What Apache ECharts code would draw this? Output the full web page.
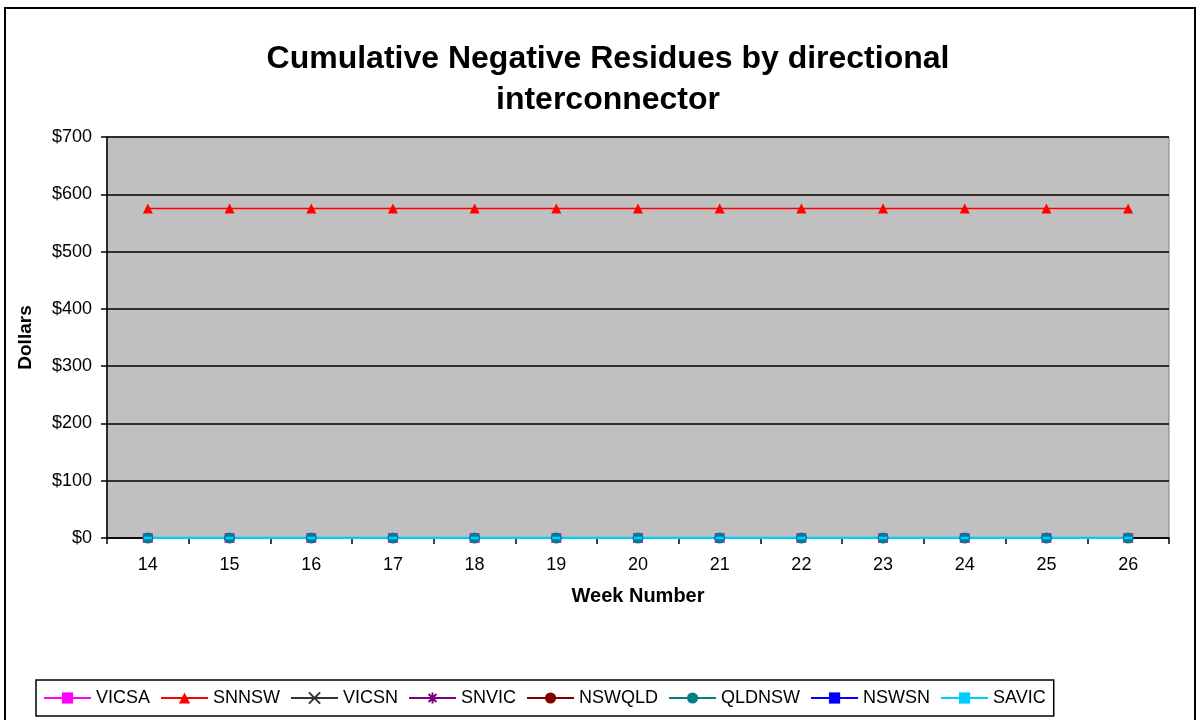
<!DOCTYPE html>
<html><head><meta charset="utf-8">
<script src="https://cdn.jsdelivr.net/npm/echarts@6/dist/echarts.min.js"></script>
<style>html,body{margin:0;padding:0;background:#fff}#c{width:1198px;height:720px}</style>
</head><body><div id="c"></div>
<script>
var weeks = ['14','15','16','17','18','19','20','21','22','23','24','25','26'];
var VICSA  = [0,0,0,0,0,0,0,0,0,0,0,0,0];
var SNNSW  = [575,575,575,575,575,575,575,575,575,575,575,575,575];
var VICSN  = [0,0,0,0,0,0,0,0,0,0,0,0,0];
var SNVIC  = [0,0,0,0,0,0,0,0,0,0,0,0,0];
var NSWQLD = [0,0,0,0,0,0,0,0,0,0,0,0,0];
var QLDNSW = [0,0,0,0,0,0,0,0,0,0,0,0,0];
var NSWSN  = [0,0,0,0,0,0,0,0,0,0,0,0,0];
var SAVIC  = [0,0,0,0,0,0,0,0,0,0,0,0,0];
var yTicks = ['$0','$100','$200','$300','$400','$500','$600','$700'];

var F = 'Arial, "Liberation Sans", sans-serif';
function mk(name, data, color, symbol, size, extra) {
  var s = {
    name: name, type: 'line', data: data, symbol: symbol, symbolSize: size,
    lineStyle: {color: color, width: 1.5},
    itemStyle: {color: color},
    emphasis: {disabled: true}, animation: false
  };
  if (extra) for (var k in extra) s[k] = extra[k];
  return s;
}
var xPath = 'path://M0,0L10,10M10,0L0,10';
var starPath = 'path://M5,0L5,10M0,5L10,5M1.5,1.5L8.5,8.5M8.5,1.5L1.5,8.5';
var chart = echarts.init(document.getElementById('c'));
chart.setOption({
  backgroundColor: '#fff',
  animation: false,
  title: {
    text: 'Cumulative Negative Residues by directional\ninterconnector',
    left: 603, top: 34, textAlign: 'center',
    textStyle: {fontFamily: F, fontSize: 32, fontWeight: 'bold', color: '#000', lineHeight: 41}
  },
  graphic: [{
    type: 'rect', shape: {x: 5, y: 8, width: 1190, height: 730},
    style: {fill: 'none', stroke: '#000', lineWidth: 2}, silent: true
  }],
  legend: {
    left: 36, top: 680,
    padding: [9, 8, 9, 7],
    borderColor: '#000', borderWidth: 1.5,
    itemWidth: 47, itemHeight: 14, itemGap: 10,
    textStyle: {fontFamily: F, fontSize: 18, color: '#000'},
    data: ['VICSA','SNNSW','VICSN','SNVIC','NSWQLD','QLDNSW','NSWSN','SAVIC']
  },
  grid: {left: 107, right: 29, top: 137, bottom: 182,
    show: true, backgroundColor: '#C0C0C0', borderColor: '#808080', borderWidth: 1},
  xAxis: {
    type: 'category', data: weeks, boundaryGap: true,
    name: 'Week Number', nameLocation: 'middle', nameGap: 48,
    nameTextStyle: {fontFamily: F, fontSize: 20, fontWeight: 'bold', color: '#000'},
    axisLine: {lineStyle: {color: '#000', width: 1.5}},
    axisTick: {show: true, length: 6, lineStyle: {color: '#000', width: 1.5}},
    axisLabel: {fontFamily: F, fontSize: 18, color: '#000', margin: 18}
  },
  yAxis: {
    type: 'value', min: 0, max: 700, interval: 100,
    name: 'Dollars', nameLocation: 'middle', nameGap: 72, nameRotate: 90,
    nameTextStyle: {fontFamily: F, fontSize: 19, fontWeight: 'bold', color: '#000'},
    axisLine: {show: true, lineStyle: {color: '#000', width: 1.5}},
    axisTick: {show: true, length: 6, lineStyle: {color: '#000', width: 1.5}},
    splitLine: {show: true, lineStyle: {color: '#000', width: 1.5}},
    axisLabel: {fontFamily: F, fontSize: 18, color: '#000', margin: 15,
      formatter: function (v) { return yTicks[Math.round(v / 100)]; }}
  },
  series: [
    mk('VICSA', VICSA, '#FF00FF', 'rect', 10),
    mk('SNNSW', SNNSW, '#FF0000', 'triangle', 10),
    mk('VICSN', VICSN, '#333333', xPath, 7, {itemStyle: {color: '#333333', borderColor: '#333333', borderWidth: 1.2}}),
    mk('SNVIC', SNVIC, '#800080', starPath, 9, {itemStyle: {color: '#800080', borderColor: '#800080', borderWidth: 1.5}}),
    mk('NSWQLD', NSWQLD, '#800000', 'circle', 10),
    mk('QLDNSW', QLDNSW, '#008080', 'circle', 11),
    mk('NSWSN', NSWSN, '#0000FF', 'rect', [6, 3]),
    mk('SAVIC', SAVIC, '#00CCFF', 'rect', [8, 3], {lineStyle: {color: '#00CCFF', width: 2.5}})
  ]
});
</script></body></html>
